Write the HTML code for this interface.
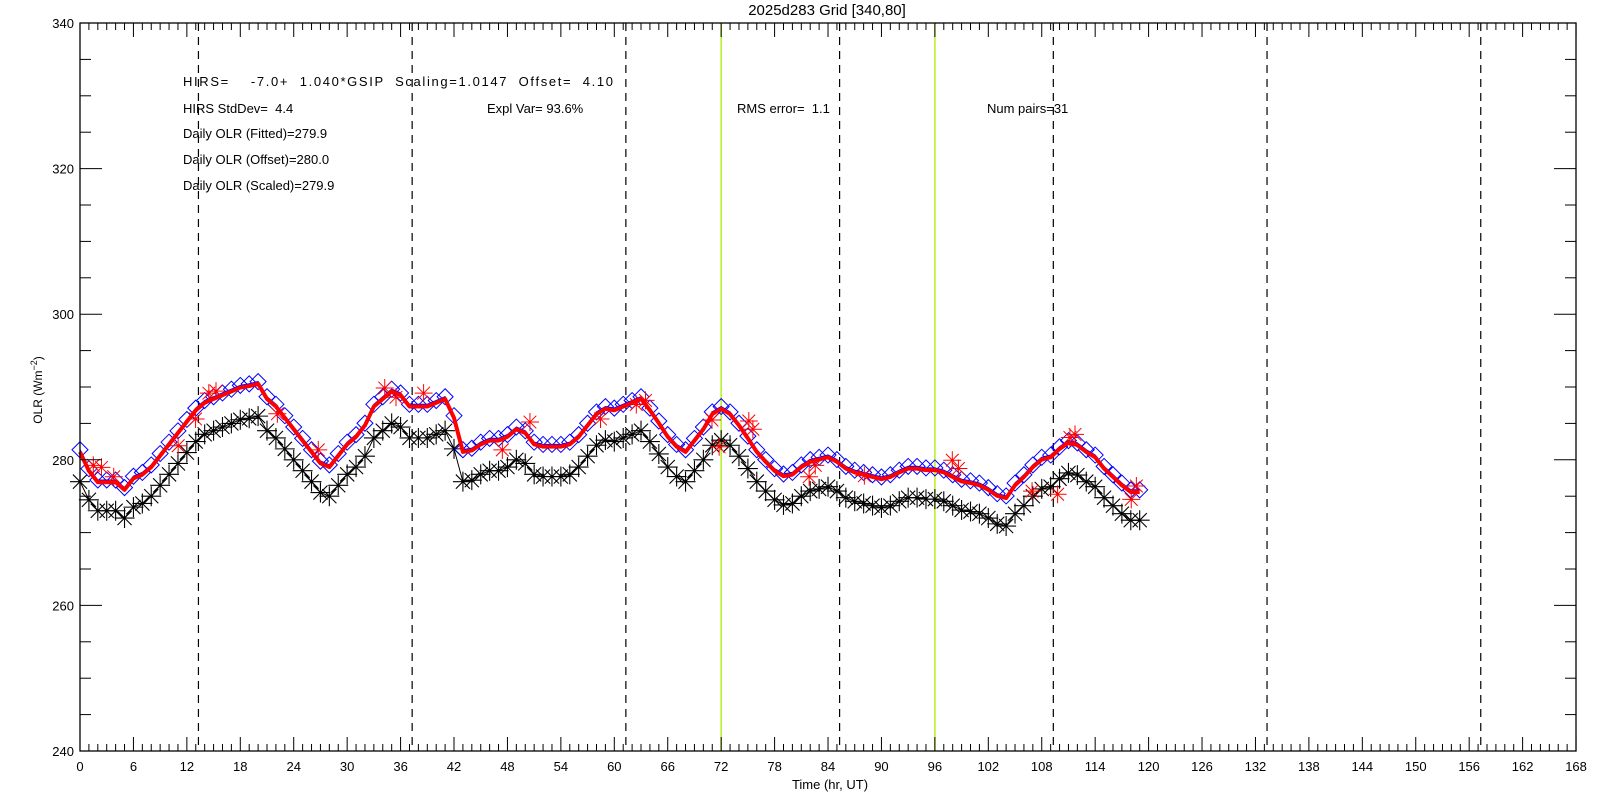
<!DOCTYPE html>
<html><head><meta charset="utf-8"><style>
html,body{margin:0;padding:0;background:#fff;}
svg{display:block;font-family:"Liberation Sans",sans-serif;}
</style></head><body>
<svg id="s" width="1600" height="800" viewBox="0 0 1600 800" xmlns="http://www.w3.org/2000/svg">
<rect width="1600" height="800" fill="#fff"/>
<g id="grid"></g>
<g id="data"></g>
<rect x="80" y="23" width="1496" height="728" fill="none" stroke="#000" stroke-width="1.3"/>
<g id="ticks"></g>
<g font-size="13" fill="#000">
<text x="827" y="15" text-anchor="middle" font-size="15">2025d283 Grid [340,80]</text>
<text x="183" y="86" textLength="430" lengthAdjust="spacing" xml:space="preserve">HIRS=    -7.0+  1.040*GSIP  Scaling=1.0147  Offset=  4.10</text>
<text x="183" y="113" xml:space="preserve">HIRS StdDev=  4.4</text>
<text x="487" y="113" xml:space="preserve">Expl Var= 93.6%</text>
<text x="737" y="113" xml:space="preserve">RMS error=  1.1</text>
<text x="987" y="113">Num pairs=31</text>
<text x="183" y="138">Daily OLR (Fitted)=279.9</text>
<text x="183" y="164">Daily OLR (Offset)=280.0</text>
<text x="183" y="190">Daily OLR (Scaled)=279.9</text>
<text x="830" y="789" text-anchor="middle">Time (hr, UT)</text>
<text transform="translate(42,390) rotate(-90)" text-anchor="middle" font-size="12">OLR (Wm<tspan dy="-5" font-size="9">−2</tspan><tspan dy="5">)</tspan></text>
</g>
<g id="labels" font-size="13" fill="#000"></g>
</svg>
<script>
const NS="http://www.w3.org/2000/svg";
const X=h=>80+8.905*h, Y=v=>751-7.28*(v-240);
function el(p,t,a,txt){const e=document.createElementNS(NS,t);for(const k in a)e.setAttribute(k,a[k]);if(txt!=null)e.textContent=txt;p.appendChild(e);return e;}
const g=document.getElementById('grid'),d=document.getElementById('data'),tk=document.getElementById('ticks'),lb=document.getElementById('labels');
[13.3,37.3,61.3,85.3,109.3,133.3,157.3].forEach(h=>el(g,'line',{x1:X(h),x2:X(h),y1:23,y2:751,stroke:'#000','stroke-dasharray':'8,6','stroke-width':1.2}));
[72,96].forEach(h=>el(g,'line',{x1:X(h),x2:X(h),y1:23,y2:751,stroke:'#b4f01e','stroke-width':1.5}));
for(let h=0;h<=168;h++){const L=h%6==0?14:7;
 el(tk,'line',{x1:X(h),x2:X(h),y1:751,y2:751-L,stroke:'#000'});
 el(tk,'line',{x1:X(h),x2:X(h),y1:23,y2:23+L,stroke:'#000'});
 if(h%6==0)el(lb,'text',{x:X(h),y:771,'text-anchor':'middle'},String(h));}
for(let v=240;v<=340;v+=5){const L=v%20==0?22:11;
 el(tk,'line',{x1:80,x2:80+L,y1:Y(v),y2:Y(v),stroke:'#000'});
 el(tk,'line',{x1:1576,x2:1576-L,y1:Y(v),y2:Y(v),stroke:'#000'});
 if(v%20==0)el(lb,'text',{x:74,y:Y(v)+5,'text-anchor':'end'},String(v));}
const b=[277,274.5,273,273,273,272,273.5,274,275,276.5,278,279.5,281,282.5,283.5,284,284.5,285,285.5,285.7,286,284,283,281.5,280,278.5,277,275.5,275,276.5,278,279,280.5,283,284,285,284.5,283,283,283,283.5,284,281.5,277,277.2,278,278.5,278.5,279,280,279.5,278,277.7,277.7,277.7,278,279,280.5,282,282.7,282.5,283,283.5,284,282.5,280.8,279,277.7,277,278.5,280,282,282.7,282,280.5,278.8,277,275.7,274.5,273.8,274,275,275.7,276,276.3,275.7,274.8,274.3,274,273.7,273.4,273.7,274.3,274.8,274.8,274.6,274.6,274.3,273.7,273.1,272.9,272.6,272,271.2,270.9,272.6,273.7,275,276,276.3,277.4,278.2,277.9,277,276.3,274.8,273.7,272.6,271.7,271.7];
const bl=b.map(v=>1.04*v-7+0.3);
el(d,'polyline',{points:b.map((v,i)=>X(i)+','+Y(v)).join(' '),fill:'none',stroke:'#000','stroke-width':1});
function star(x,y,r,c,w){let s='';for(let k=0;k<4;k++){const a=k*Math.PI/4;s+=`M${x-r*Math.cos(a)},${y-r*Math.sin(a)}L${x+r*Math.cos(a)},${y+r*Math.sin(a)}`;}el(d,'path',{d:s,stroke:c,'stroke-width':w,fill:'none'});}
b.forEach((v,i)=>star(X(i),Y(v),10,'#000',1.1));
el(d,'polyline',{points:bl.map((v,i)=>X(i)+','+Y(v)).join(' '),fill:'none',stroke:'#00f','stroke-width':1.2});
bl.forEach((v,i)=>{const x=X(i),y=Y(v),r=8;el(d,'path',{d:`M${x-r},${y}L${x},${y-r}L${x+r},${y}L${x},${y+r}Z`,fill:'none',stroke:'#00f','stroke-width':1});});
const rp=[[92,455],[100,457],[112,466],[175,436],[192,410],[205,385],[212,383],[272,405],[312,440],[377,380],[388,389],[415,385],[492,440],[519,413],[588,410],[623,396],[632,392],[697,411],[704,437],[733,412],[737,420],[792,466],[798,455],[846,465],[932,450],[938,458],[1010,480],[1035,483],[1047,428],[1052,425],[1107,488],[1112,475]];
rp.forEach(([mx,my])=>{const h=(mx-79)/8.708,v=240+(732-my)/7.06;star(X(h),Y(v),9,'#f00',1);});
el(d,'polyline',{points:bl.map((v,i)=>X(i)+','+Y(v-0.3)).join(' '),fill:'none',stroke:'#f00','stroke-width':4,'stroke-linejoin':'round'});
</script>
</body></html>
